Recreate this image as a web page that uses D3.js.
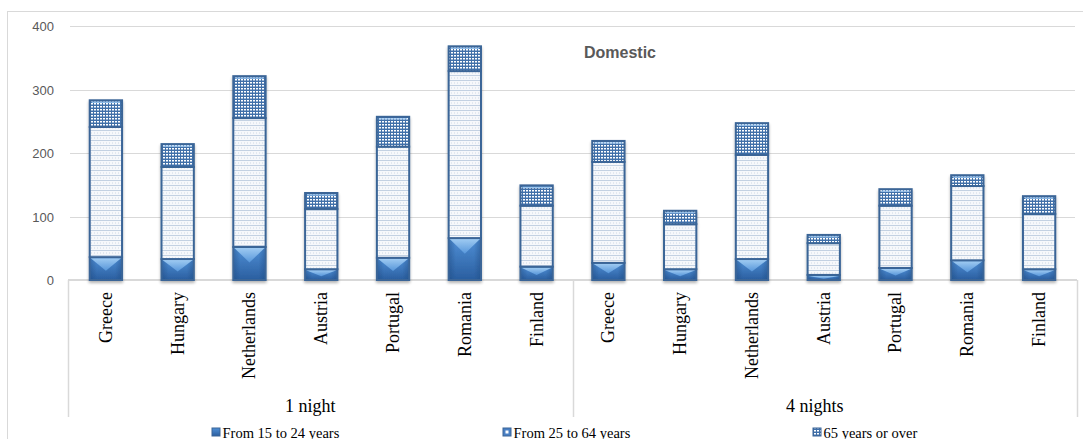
<!DOCTYPE html>
<html>
<head>
<meta charset="utf-8">
<script src="https://cdn.jsdelivr.net/npm/d3@7/dist/d3.min.js"></script>
<style>
  html, body { margin: 0; padding: 0; background: #fff; }
  svg { display: block; }
</style>
</head>
<body>
<svg id="chart" width="1083" height="439"></svg>
<script>
// ---- data ----
const countries = ["Greece", "Hungary", "Netherlands", "Austria", "Portugal", "Romania", "Finland"];
const groups = ["1 night", "4 nights"];
const seriesNames = ["From 15 to 24 years", "From 25 to 64 years", "65 years or over"];
const age15to24 = [36, 33, 52, 17, 35, 66, 21,   27, 17, 33, 8, 19, 31, 17];
const age25to64 = [205, 145, 203, 95, 175, 263, 96,   159, 71, 164, 50, 98, 117, 87];
const age65plus = [42, 36, 66, 25, 47, 39, 32,   33, 21, 50, 13, 26, 17, 28];
const yTicks = [0, 100, 200, 300, 400];
const chartTitle = "Domestic";

// ---- build table ----
const rows = [];
groups.forEach((g, gi) => countries.forEach((c, ci) => {
  const i = gi * countries.length + ci;
  rows.push({ key: g + "|" + c, group: g, country: c, a: age15to24[i], b: age25to64[i], c65: age65plus[i] });
}));

const svg = d3.select("#chart");
const plotL = 70, plotR = 1075, plotT = 26, plotB = 280;

const x = d3.scaleBand().domain(rows.map(d => d.key)).range([plotL, plotR]).paddingInner(0.55).paddingOuter(0.275);
const y = d3.scaleLinear().domain([0, 400]).range([plotB, plotT]);

// ---- defs ----
const defs = svg.append("defs");
const gBot = defs.append("linearGradient").attr("id", "gBot").attr("x1", 0).attr("y1", 0).attr("x2", 0).attr("y2", 1);
gBot.append("stop").attr("offset", "0%").attr("stop-color", "#4f8fd6");
gBot.append("stop").attr("offset", "100%").attr("stop-color", "#2a5e9f");

const gBev = defs.append("linearGradient").attr("id", "gBev").attr("x1", 0).attr("y1", 0).attr("x2", 0).attr("y2", 1);
gBev.append("stop").attr("offset", "0%").attr("stop-color", "#a7d1f5");
gBev.append("stop").attr("offset", "100%").attr("stop-color", "#5a9ade");

const gSide = defs.append("linearGradient").attr("id", "gSide").attr("x1", 0).attr("y1", 0).attr("x2", 1).attr("y2", 0);
gSide.append("stop").attr("offset", "0%").attr("stop-color", "#1f4a80").attr("stop-opacity", 0.4);
gSide.append("stop").attr("offset", "20%").attr("stop-color", "#1f4a80").attr("stop-opacity", 0);
gSide.append("stop").attr("offset", "80%").attr("stop-color", "#1f4a80").attr("stop-opacity", 0);
gSide.append("stop").attr("offset", "100%").attr("stop-color", "#1f4a80").attr("stop-opacity", 0.4);

const pMid = defs.append("pattern").attr("id", "pMid").attr("patternUnits", "userSpaceOnUse").attr("width", 3).attr("height", 5);
pMid.append("rect").attr("width", 3).attr("height", 5).attr("fill", "#f6f8fb");
pMid.append("rect").attr("x", 0).attr("y", 0).attr("width", 3).attr("height", 1).attr("fill", "#c3d1e2");
pMid.append("rect").attr("x", 1).attr("y", 2).attr("width", 1).attr("height", 2).attr("fill", "#e2e8f0");

const pTop = defs.append("pattern").attr("id", "pTop").attr("patternUnits", "userSpaceOnUse").attr("width", 3).attr("height", 3);
pTop.append("rect").attr("width", 3).attr("height", 3).attr("fill", "#3f6fa9");
pTop.append("rect").attr("x", 1).attr("y", 1).attr("width", 2).attr("height", 1.5).attr("fill", "#ffffff");

const shadow = defs.append("filter").attr("id", "shadow").attr("x", "-20%").attr("y", "-5%").attr("width", "140%").attr("height", "115%");
shadow.append("feGaussianBlur").attr("in", "SourceAlpha").attr("stdDeviation", 1.5).attr("result", "blur");
shadow.append("feOffset").attr("in", "blur").attr("dx", 0).attr("dy", 2).attr("result", "off");
shadow.append("feComponentTransfer").append("feFuncA").attr("type", "linear").attr("slope", 0.3);
const merge = shadow.append("feMerge");
merge.append("feMergeNode");
merge.append("feMergeNode").attr("in", "SourceGraphic");

// ---- outer border ----
svg.append("rect").attr("x", 7.5).attr("y", 11.5).attr("width", 1100).attr("height", 460)
  .attr("fill", "none").attr("stroke", "#d9d9d9").attr("stroke-width", 1);

// ---- gridlines ----
svg.append("g").selectAll("line").data(yTicks.filter(t => t > 0)).join("line")
  .attr("x1", plotL).attr("x2", plotR)
  .attr("y1", d => Math.round(y(d)) + 0.5).attr("y2", d => Math.round(y(d)) + 0.5)
  .attr("stroke", "#d9d9d9").attr("stroke-width", 1);

// ---- y axis labels ----
const yAxis = d3.axisLeft(y).tickValues(yTicks).tickSize(0).tickPadding(0);
const yg = svg.append("g").attr("transform", `translate(54,0)`).call(yAxis);
yg.select(".domain").remove();
yg.selectAll("text").attr("font-family", "'Liberation Sans', Arial, sans-serif").attr("font-size", "13px")
  .attr("fill", "#595959").attr("dy", "0.35em");

// ---- category axis frame ----
const divX = [68, (x(rows[6].key) + x.bandwidth() + x(rows[7].key)) / 2, 1077];
svg.append("line").attr("x1", 68).attr("x2", 1077).attr("y1", plotB).attr("y2", plotB)
  .attr("stroke", "#d9d9d9").attr("stroke-width", 2);
svg.append("g").selectAll("line").data(divX).join("line")
  .attr("x1", d => Math.round(d) + 0.5).attr("x2", d => Math.round(d) + 0.5)
  .attr("y1", plotB).attr("y2", 417)
  .attr("stroke", "#d9d9d9").attr("stroke-width", 1.5);

// ---- bars ----
const bars = svg.append("g").selectAll("g").data(rows).join("g").attr("filter", "url(#shadow)");
const segs = d => [
  { y0: 0, y1: d.a, fill: "url(#gBot)", k: 0 },
  { y0: d.a, y1: d.a + d.b, fill: "url(#pMid)", k: 1 },
  { y0: d.a + d.b, y1: d.a + d.b + d.c65, fill: "url(#pTop)", k: 2 }
];
bars.each(function(d) {
  const g = d3.select(this);
  const bx = x(d.key), bw = x.bandwidth();
  segs(d).forEach(s => {
    const top = y(s.y1), bot = y(s.y0), h = bot - top;
    g.append("rect").attr("x", bx).attr("y", top).attr("width", bw).attr("height", h)
      .attr("fill", s.fill).attr("stroke", "#3a6597").attr("stroke-width", 2);
    if (s.k === 0) {
      g.append("rect").attr("x", bx + 1).attr("y", top + 1).attr("width", bw - 2).attr("height", Math.max(0, h - 2))
        .attr("fill", "url(#gSide)");
      const depth = Math.min(h * 0.55, bw * 0.45);
      g.append("polygon")
        .attr("points", [[bx + 1, top + 1], [bx + bw - 1, top + 1], [bx + bw / 2, top + 1 + depth]].map(p => p.join(",")).join(" "))
        .attr("fill", "url(#gBev)").attr("opacity", 0.9);
    } else if (s.k === 2) {
      g.append("line").attr("x1", bx + 2).attr("x2", bx + bw - 2).attr("y1", top + 2).attr("y2", top + 2)
        .attr("stroke", "#9cc7f0").attr("stroke-width", 1.2);
    }
  });
});

// ---- category labels ----
svg.append("g").selectAll("text").data(rows).join("text")
  .attr("transform", d => `translate(${x(d.key) + x.bandwidth() / 2},292) rotate(-90)`)
  .attr("text-anchor", "end").attr("dy", "0.33em")
  .attr("font-family", "'Liberation Serif', 'Times New Roman', serif").attr("font-size", "18px")
  .attr("fill", "#000").text(d => d.country);

// ---- group labels ----
const groupCenters = [(divX[0] + divX[1]) / 2 - 10, (divX[1] + divX[2]) / 2 - 10];
svg.append("g").selectAll("text").data(groups).join("text")
  .attr("x", (d, i) => groupCenters[i]).attr("y", 412)
  .attr("text-anchor", "middle")
  .attr("font-family", "'Liberation Serif', 'Times New Roman', serif").attr("font-size", "18px")
  .attr("fill", "#000").text(d => d);

// ---- title ----
svg.append("text").attr("x", 620).attr("y", 58).attr("text-anchor", "middle")
  .attr("font-family", "'Liberation Sans', Arial, sans-serif").attr("font-size", "16px").attr("font-weight", "bold")
  .attr("fill", "#595959").text(chartTitle);

// ---- legend ----
const legX = [212, 503, 813];
const legFills = ["url(#gBot)", "#ffffff", "url(#pTop)"];
const leg = svg.append("g").selectAll("g").data(seriesNames).join("g")
  .attr("transform", (d, i) => `translate(${legX[i]},0)`);
leg.append("rect").attr("x", 0).attr("y", 428).attr("width", 8).attr("height", 8)
  .attr("fill", (d, i) => i === 1 ? "#4a80c4" : legFills[i]).attr("stroke", "#3a6597").attr("stroke-width", 1);
leg.filter((d, i) => i === 1).append("rect").attr("x", 2.5).attr("y", 430.5).attr("width", 3).attr("height", 3)
  .attr("fill", "#ffffff");
leg.append("text").attr("x", 10.5).attr("y", 437.5)
  .attr("font-family", "'Liberation Serif', 'Times New Roman', serif").attr("font-size", "14.5px")
  .attr("fill", "#000").text(d => d);
</script>
</body>
</html>
